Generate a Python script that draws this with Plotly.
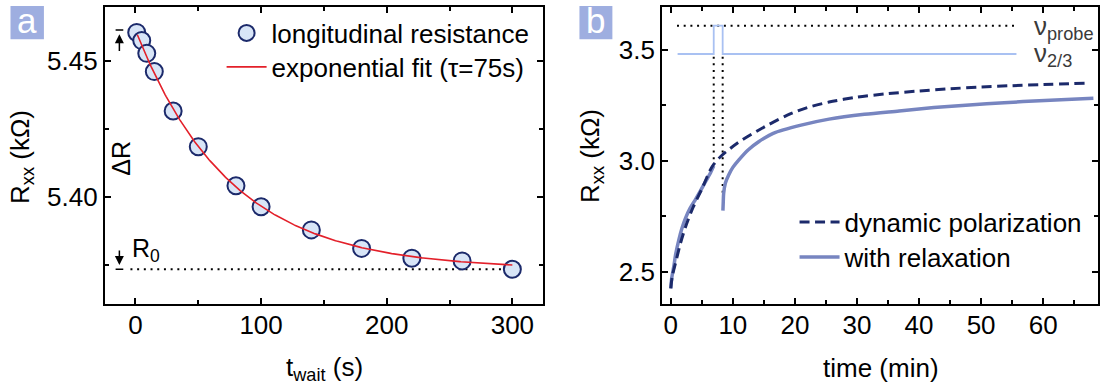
import numpy as np
import plotly.graph_objects as go

FONT = "Liberation Sans, Arial, sans-serif"
FS = 26

# ---------------- panel a: longitudinal resistance vs waiting time ----------------
t_wait = [1, 5, 9, 15, 30, 50, 80, 100, 140, 180, 220, 260, 300]
r_xx = [5.4604, 5.4574, 5.4527, 5.4460, 5.4315, 5.4184, 5.4040,
        5.3963, 5.3878, 5.3810, 5.3774, 5.3764, 5.3733]

# exponential fit R(t) = R0 + dR * exp(-t / tau)
fit_tau = 75.0    # s
fit_r0 = 5.3733   # kOhm
fit_dr = 0.0880   # kOhm
fit_t = np.linspace(1.5, 300, 300)
fit_r = fit_r0 + fit_dr * np.exp(-fit_t / fit_tau)

# ---------------- panel b: resistance vs time ----------------
dyn_t = [0.0, 0.25, 0.75, 1.56, 2.36, 3.6, 5.0, 6.65, 8.0, 10.7, 14.2, 18.7,
         22.0, 25.5, 30.0, 35.0, 40.0, 45.0, 50.0, 55.0, 60.0, 66.7]
dyn_r = [2.424, 2.48, 2.537, 2.627, 2.70, 2.79, 2.872, 2.973, 3.018, 3.079, 3.139, 3.205,
         3.24, 3.265, 3.287, 3.303, 3.315, 3.325, 3.333, 3.339, 3.344, 3.350]

# with relaxation: two segments, interrupted while probing
rel_t1 = [0.0, 0.15, 0.48, 0.8, 1.29, 1.8, 2.36, 3.1, 3.97, 4.8, 5.58, 6.3, 6.92]
rel_r1 = [2.424, 2.47, 2.522, 2.58, 2.642, 2.695, 2.74, 2.785, 2.825, 2.865, 2.905, 2.94, 2.977]
rel_t2 = [8.4, 8.45, 8.52, 8.8, 9.33, 10.0, 10.94, 12.5, 14.16, 16.5, 21.0, 25.5,
          31.2, 36.8, 42.4, 48.1, 53.7, 59.4, 68.1]
rel_r2 = [2.775, 2.81, 2.853, 2.90, 2.936, 2.97, 3.003, 3.05, 3.086, 3.124, 3.161, 3.188,
          3.21, 3.225, 3.24, 3.252, 3.262, 3.271, 3.282]

# filling-factor protocol (schematic levels)
nu_t = [1.1, 6.92, 6.92, 8.36, 8.36, 55.7]
nu_r = [3.482, 3.482, 3.61, 3.61, 3.482, 3.482]
probe_t = [1.0, 55.4]
probe_r = [3.61, 3.61]
probe_start, probe_end = 6.92, 8.36

NAVY = "#1c2a6b"
RELAX = "#7785c0"
STEP = "#a9c1f2"
RED = "#e3202a"
DOT = "2px,4.7px"

fig = go.Figure()

# panel a traces
fig.add_trace(go.Scatter(x=[-4, 302], y=[fit_r0, fit_r0], mode="lines",
                         line=dict(color="black", width=2, dash=DOT),
                         showlegend=False, hoverinfo="skip", xaxis="x", yaxis="y"))
fig.add_trace(go.Scatter(x=t_wait, y=r_xx, mode="markers", name="longitudinal resistance",
                         marker=dict(size=17, color="#d8e5f7",
                                     line=dict(color=NAVY, width=2)),
                         xaxis="x", yaxis="y", legend="legend"))
fig.add_trace(go.Scatter(x=fit_t, y=fit_r, mode="lines", name="exponential fit (τ=75s)",
                         line=dict(color=RED, width=1.6),
                         xaxis="x", yaxis="y", legend="legend3"))

# panel b traces
fig.add_trace(go.Scatter(x=probe_t, y=probe_r, mode="lines",
                         line=dict(color="black", width=2, dash=DOT),
                         showlegend=False, hoverinfo="skip", xaxis="x2", yaxis="y2"))
fig.add_trace(go.Scatter(x=[probe_start, probe_start], y=[3.47, 2.985], mode="lines",
                         line=dict(color="black", width=2, dash=DOT),
                         showlegend=False, hoverinfo="skip", xaxis="x2", yaxis="y2"))
fig.add_trace(go.Scatter(x=[probe_end, probe_end], y=[3.47, 2.85], mode="lines",
                         line=dict(color="black", width=2, dash=DOT),
                         showlegend=False, hoverinfo="skip", xaxis="x2", yaxis="y2"))
fig.add_trace(go.Scatter(x=nu_t, y=nu_r, mode="lines",
                         line=dict(color=STEP, width=1.8),
                         showlegend=False, hoverinfo="skip", xaxis="x2", yaxis="y2"))
fig.add_trace(go.Scatter(x=rel_t1 + [None] + rel_t2, y=rel_r1 + [None] + rel_r2,
                         mode="lines", name="with relaxation",
                         line=dict(color=RELAX, width=3.5, shape="spline", smoothing=0.8),
                         connectgaps=False, xaxis="x2", yaxis="y2", legend="legend4"))
fig.add_trace(go.Scatter(x=dyn_t, y=dyn_r, mode="lines", name="dynamic polarization",
                         line=dict(color=NAVY, width=3, dash="10px,5.5px",
                                   shape="spline", smoothing=0.8),
                         xaxis="x2", yaxis="y2", legend="legend2"))

H = 386.0
W = 1100.0
ydom = [(H - 304) / H, (H - 6.5) / H]

axis_common = dict(showline=True, linecolor="black", linewidth=2, mirror="ticks",
                   ticks="inside", ticklen=6, tickwidth=1.5, tickcolor="black",
                   showgrid=False, zeroline=False,
                   tickfont=dict(family=FONT, size=FS, color="black"))


def legend_box(x_px, yc_px):
    return dict(x=x_px / W, y=1 - yc_px / H, xanchor="left", yanchor="middle",
                bgcolor="rgba(0,0,0,0)", borderwidth=0, itemwidth=40,
                font=dict(family=FONT, size=FS, color="black"))


fig.update_layout(
    width=1100, height=386, autosize=False,
    margin=dict(l=0, r=0, t=0, b=0),
    paper_bgcolor="white", plot_bgcolor="white",
    font=dict(family=FONT, size=FS, color="black"),
    xaxis=dict(domain=[105 / W, 544 / W], range=[-24.4, 324.4], anchor="y",
               dtick=100, tick0=0, ticklabelstandoff=-3,
               minor=dict(dtick=50, ticklen=4, tickwidth=1.5, ticks="inside", tickcolor="black"),
               **axis_common),
    yaxis=dict(domain=ydom, range=[5.36055, 5.46993], anchor="x",
               dtick=0.05, tick0=5.40, tickformat=".2f",
               minor=dict(dtick=0.025, ticklen=4, tickwidth=1.5, ticks="inside", tickcolor="black"),
               **axis_common),
    xaxis2=dict(domain=[663.3 / W, 1.0], range=[-1.40, 68.84], anchor="y2",
                dtick=10, tick0=0, ticklabelstandoff=-3,
                minor=dict(dtick=5, ticklen=4, tickwidth=1.5, ticks="inside", tickcolor="black"),
                **axis_common),
    yaxis2=dict(domain=ydom, range=[2.3533, 3.6964], anchor="x2",
                dtick=0.5, tick0=2.5, tickformat=".1f",
                minor=dict(dtick=0.25, ticklen=4, tickwidth=1.5, ticks="inside", tickcolor="black"),
                **axis_common),
    legend=legend_box(222, 33),
    legend3=legend_box(222, 67),
    legend2=legend_box(796, 222),
    legend4=legend_box(796, 257),
)

# panel letter boxes
shapes = []
annotations = []
for (x0, x1, letter) in [(10.5, 44.0, "a"), (580.5, 613.5, "b")]:
    shapes.append(dict(type="rect", xref="paper", yref="paper",
                       x0=x0 / W, x1=x1 / W, y0=1 - 39.3 / H, y1=1 - 6 / H,
                       fillcolor="#9eaee0", line=dict(width=0), layer="below"))
    annotations.append(dict(text=letter, xref="paper", yref="paper",
                            x=(x0 + x1) / 2 / W, y=1 - 21 / H, xanchor="center", yanchor="middle",
                            showarrow=False, font=dict(family=FONT, size=35, color="white")))

# axis titles
annotations += [
    dict(text="R<sub>xx</sub> (kΩ)", xref="paper", yref="paper", x=21 / W, y=1 - 157 / H,
         textangle=-90, showarrow=False, xanchor="center", yanchor="middle"),
    dict(text="R<sub>xx</sub> (kΩ)", xref="paper", yref="paper", x=592 / W, y=1 - 156 / H,
         textangle=-90, showarrow=False, xanchor="center", yanchor="middle"),
    dict(text="t<sub>wait</sub> (s)", xref="paper", yref="paper", x=325 / W, y=1 - 368 / H,
         showarrow=False, xanchor="center", yanchor="middle"),
    dict(text="time (min)", xref="paper", yref="paper", x=883 / W, y=1 - 368 / H,
         showarrow=False, xanchor="center", yanchor="middle"),
]

# dR / R0 markers in panel a
r_top = fit_r0 + fit_dr
for yb in (r_top, fit_r0):
    shapes.append(dict(type="line", xref="x", yref="y", x0=-15.8, x1=-9.7, y0=yb, y1=yb,
                       line=dict(color="black", width=1.5)))
annotations += [
    dict(x=-12.8, y=5.4597, ax=-12.8, ay=5.4530, xref="x", yref="y", axref="x", ayref="y",
         text="", showarrow=True, arrowhead=2, arrowsize=1.2, arrowwidth=1.5, arrowcolor="black"),
    dict(x=-12.8, y=5.3749, ax=-12.8, ay=5.3808, xref="x", yref="y", axref="x", ayref="y",
         text="", showarrow=True, arrowhead=2, arrowsize=1.2, arrowwidth=1.5, arrowcolor="black"),
    dict(text="ΔR", xref="paper", yref="paper", x=121 / W, y=1 - 158 / H, textangle=-90,
         showarrow=False, xanchor="center", yanchor="middle", font=dict(size=25)),
    dict(text="R<sub>0</sub>", xref="paper", yref="paper", x=130 / W, y=1 - 250 / H,
         showarrow=False, xanchor="left", yanchor="middle", font=dict(size=25)),
]

# filling-factor labels in panel b
annotations += [
    dict(text="ν<sub>probe</sub>", xref="x2", yref="y2", x=58.2, y=3.61, yshift=-2,
         showarrow=False, xanchor="left", yanchor="middle",
         font=dict(size=FS, color="#3a3a3a")),
    dict(text="ν<sub>2/3</sub>", xref="x2", yref="y2", x=58.2, y=3.482, yshift=-1,
         showarrow=False, xanchor="left", yanchor="middle",
         font=dict(size=FS, color="#3a3a3a")),
]

fig.update_layout(shapes=shapes, annotations=annotations)
fig.write_html("out.html")
